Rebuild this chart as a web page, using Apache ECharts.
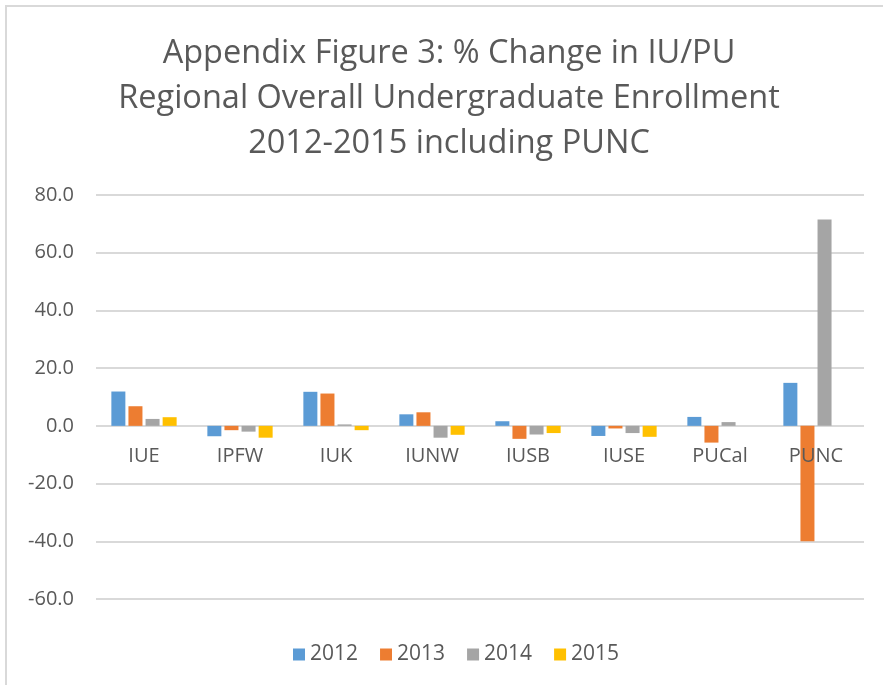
<!DOCTYPE html>
<html>
<head>
<meta charset="utf-8">
<script src="https://cdn.jsdelivr.net/npm/echarts@6/dist/echarts.min.js"></script>
<style>
  html, body { margin: 0; padding: 0; background: #fff; }
  #chart { width: 883px; height: 685px; }
</style>
</head>
<body>
<div id="chart"></div>
<script>
var categories = ["IUE", "IPFW", "IUK", "IUNW", "IUSB", "IUSE", "PUCal", "PUNC"];
var years = ["2012", "2013", "2014", "2015"];
var values2012 = [11.9, -3.6, 11.8, 4.0, 1.6, -3.5, 3.1, 14.9];
var values2013 = [6.8, -1.5, 11.2, 4.7, -4.5, -0.9, -5.8, -40.0];
var values2014 = [2.4, -2.0, 0.5, -4.1, -3.0, -2.5, 1.3, 71.5];
var values2015 = [3.0, -4.1, -1.5, -3.1, -2.5, -3.8, null, null];
var colors = ["#5b9bd5", "#ed7d31", "#a5a5a5", "#ffc000"];

var font = "Open Sans";
var chart = echarts.init(document.getElementById("chart"));
var allValues = [values2012, values2013, values2014, values2015];

var series = years.map(function (y, i) {
  return {
    name: y,
    type: "bar",
    data: allValues[i],
    barGap: "22%",
    barCategoryGap: "32%",
    itemStyle: { color: colors[i] }
  };
});

var option = {
  animation: false,
  color: colors,
  title: {
    text: "Appendix Figure 3: % Change in IU/PU\nRegional Overall Undergraduate Enrollment\n2012-2015 including PUNC",
    left: 444,
    textAlign: "center",
    top: 26,
    textStyle: {
      fontFamily: font,
      fontSize: 32.5,
      fontWeight: "normal",
      color: "#595959",
      lineHeight: 45
    }
  },
  legend: {
    data: years,
    left: 288,
    top: 639,
    itemWidth: 12,
    itemHeight: 12,
    itemGap: 22,
    icon: "rect",
    textStyle: { fontFamily: font, fontSize: 21, color: "#595959" }
  },
  grid: { left: 96, right: 19, top: 195, bottom: 86 },
  xAxis: {
    type: "category",
    data: categories,
    offset: -173,
    z: 5,
    axisLine: { show: false },
    axisTick: { show: false },
    axisLabel: { margin: 20, fontFamily: font, fontSize: 20, color: "#595959" }
  },
  yAxis: {
    type: "value",
    min: -60,
    max: 80,
    interval: 20,
    axisLine: { show: false },
    axisTick: { show: false },
    splitLine: { lineStyle: { color: "#d9d9d9", width: 2 } },
    axisLabel: {
      margin: 22,
      fontFamily: font,
      fontSize: 20,
      color: "#595959",
      formatter: function (v) { return v.toFixed(1); }
    }
  },
  graphic: [
    {
      type: "polyline",
      shape: { points: [[6, 690], [6, 6], [890, 6]] },
      style: { stroke: "#d9d9d9", lineWidth: 2, fill: null }
    }
  ],
  series: series
};
chart.setOption(option);
</script>
</body>
</html>
